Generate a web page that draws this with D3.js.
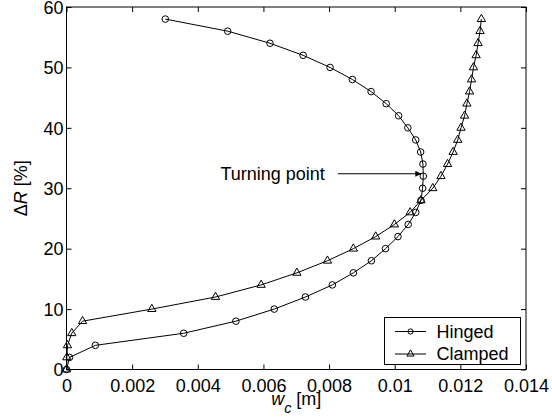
<!DOCTYPE html>
<html>
<head>
<meta charset="utf-8">
<script src="https://cdn.jsdelivr.net/npm/d3@7"></script>
<style>
  html, body { margin: 0; padding: 0; background: #fff; }
  svg { display: block; font-family: "Liberation Sans", Arial, Helvetica, sans-serif; }
</style>
</head>
<body>
<svg id="chart" width="552" height="418"></svg>
<script>
// ---- data ----
const deltaR = [0,2,4,6,8,10,12,14,16,18,20,22,24,26,28,30,32,34,36,38,40,42,44,46,48,50,52,54,56,58];
const hingedW = [0,0.00009,0.00088,0.00357,0.00516,0.00633,0.00728,0.00810,0.00874,0.00929,
                 0.00972,0.01010,0.01041,0.01064,0.01080,0.01085,0.01087,0.01086,0.01079,0.01064,
                 0.01040,0.01012,0.00974,0.00928,0.00871,0.00803,0.00721,0.00620,0.00491,0.00301];
const clampedW = [0,0.00001,0.00003,0.00016,0.00049,0.00260,0.00454,0.00593,0.00702,0.00795,
                  0.00874,0.00942,0.00999,0.01047,0.01080,0.01116,0.01141,0.01161,0.01178,0.01192,
                  0.01202,0.01213,0.01220,0.01228,0.01234,0.01240,0.01248,0.01254,0.01260,0.01264];
const xTicks = [0,0.002,0.004,0.006,0.008,0.01,0.012,0.014];
const xTickLabels = ["0","0.002","0.004","0.006","0.008","0.01","0.012","0.014"];
const yTicks = [0,10,20,30,40,50,60];
const seriesNames = ["Hinged","Clamped"];
// annotation: text anchor and arrow (data coordinates)
const annotText = "Turning point";
const annotTextPos = [0.00469, 31.35];
const annotArrow = [[0.00827, 32.4],[0.01081, 32.4]];

// ---- layout ----
const L = 66.5, R = 526, T = 7, B = 369.5;
const FS = 18;
const svg = d3.select("#chart");
const x = d3.scaleLinear().domain([0, 0.014]).range([L, R]);
const y = d3.scaleLinear().domain([0, 60]).range([B, T]);

// defs: arrowhead
svg.append("defs").append("marker")
  .attr("id","arrow").attr("viewBox","0 0 10 10").attr("refX",10).attr("refY",5)
  .attr("markerWidth",8).attr("markerHeight",6).attr("markerUnits","userSpaceOnUse")
  .attr("orient","auto")
  .append("path").attr("d","M0,0 L10,5 L0,10 Z").attr("fill","#000");

// axes
const fmtX = (d,i) => xTickLabels[xTicks.indexOf(d)];
const gB = svg.append("g").attr("transform",`translate(0,${B})`)
  .call(d3.axisBottom(x).tickValues(xTicks).tickFormat(fmtX).tickSize(-5).tickPadding(10));
const gT = svg.append("g").attr("transform",`translate(0,${T})`)
  .call(d3.axisTop(x).tickValues(xTicks).tickFormat("").tickSize(-5));
const gL = svg.append("g").attr("transform",`translate(${L},0)`)
  .call(d3.axisLeft(y).tickValues(yTicks).tickFormat(d3.format("d")).tickSize(-5).tickPadding(3));
const gR = svg.append("g").attr("transform",`translate(${R},0)`)
  .call(d3.axisRight(y).tickValues(yTicks).tickFormat("").tickSize(-5));
[gB,gT,gL,gR].forEach(g => {
  g.select(".domain").remove();
  g.selectAll("line").attr("stroke","#000");
  g.selectAll("text").attr("font-size",FS).attr("fill","#000")
   .attr("font-family",'"Liberation Sans", Arial, sans-serif');
});
gL.selectAll("text").attr("dy","0.35em");
// box
svg.append("rect").attr("x",L).attr("y",T).attr("width",R-L).attr("height",B-T)
  .attr("fill","none").attr("stroke","#000").attr("stroke-width",1);

// series
const line = d3.line().x(d => x(d[0])).y(d => y(d[1]));
const hinged = hingedW.map((w,i) => [w, deltaR[i]]);
const clamped = clampedW.map((w,i) => [w, deltaR[i]]);

const plot = svg.append("g");
plot.append("path").datum(clamped).attr("d",line).attr("fill","none").attr("stroke","#000").attr("stroke-width",1);
plot.append("path").datum(hinged).attr("d",line).attr("fill","none").attr("stroke","#000").attr("stroke-width",1);

const tri = d3.symbol().type(d3.symbolTriangle).size(30);
plot.selectAll(".m-h").data(hinged).join("circle").attr("class","m-h")
  .attr("cx",d=>x(d[0])).attr("cy",d=>y(d[1])).attr("r",3.3)
  .attr("fill","none").attr("stroke","#000").attr("stroke-width",1);
plot.selectAll(".m-c").data(clamped).join("path").attr("class","m-c")
  .attr("transform",d=>`translate(${x(d[0])},${y(d[1])})`).attr("d",tri)
  .attr("fill","none").attr("stroke","#000").attr("stroke-width",1);

// annotation
svg.append("text").attr("x",x(annotTextPos[0])).attr("y",y(annotTextPos[1]))
  .attr("font-size",FS).text(annotText);
svg.append("line")
  .attr("x1",x(annotArrow[0][0])).attr("y1",y(annotArrow[0][1]))
  .attr("x2",x(annotArrow[1][0])).attr("y2",y(annotArrow[1][1]))
  .attr("stroke","#000").attr("stroke-width",1).attr("marker-end","url(#arrow)");

// axis labels
const xl = svg.append("text").attr("x",(L+R)/2).attr("y",405).attr("text-anchor","middle").attr("font-size",FS);
xl.append("tspan").attr("font-style","italic").text("w");
xl.append("tspan").attr("font-style","italic").attr("dy",8).attr("font-size",FS*0.8).text("c");
xl.append("tspan").attr("dy",-8).text(" [m]");

const yl = svg.append("text").attr("transform",`translate(27,${(T+B)/2}) rotate(-90)`)
  .attr("text-anchor","middle").attr("font-size",FS);
yl.append("tspan").text("Δ");
yl.append("tspan").attr("font-style","italic").text("R");
yl.append("tspan").text(" [%]");

// legend
const lg = svg.append("g");
lg.append("rect").attr("x",384.5).attr("y",317.5).attr("width",136).attr("height",47)
  .attr("fill","#fff").attr("stroke","#000").attr("stroke-width",1);
const legY = [331.5, 354];
seriesNames.forEach((name,i) => {
  lg.append("line").attr("x1",395).attr("x2",426).attr("y1",legY[i]).attr("y2",legY[i])
    .attr("stroke","#000").attr("stroke-width",1);
  if (i === 0) {
    lg.append("circle").attr("cx",410.5).attr("cy",legY[i]).attr("r",2.6)
      .attr("fill","none").attr("stroke","#000");
  } else {
    lg.append("path").attr("transform",`translate(410.5,${legY[i]})`)
      .attr("d",d3.symbol().type(d3.symbolTriangle).size(22)).attr("fill","none").attr("stroke","#000");
  }
  lg.append("text").attr("x",436.5).attr("y",legY[i]+6).attr("font-size",FS).text(name);
});
</script>
</body>
</html>
